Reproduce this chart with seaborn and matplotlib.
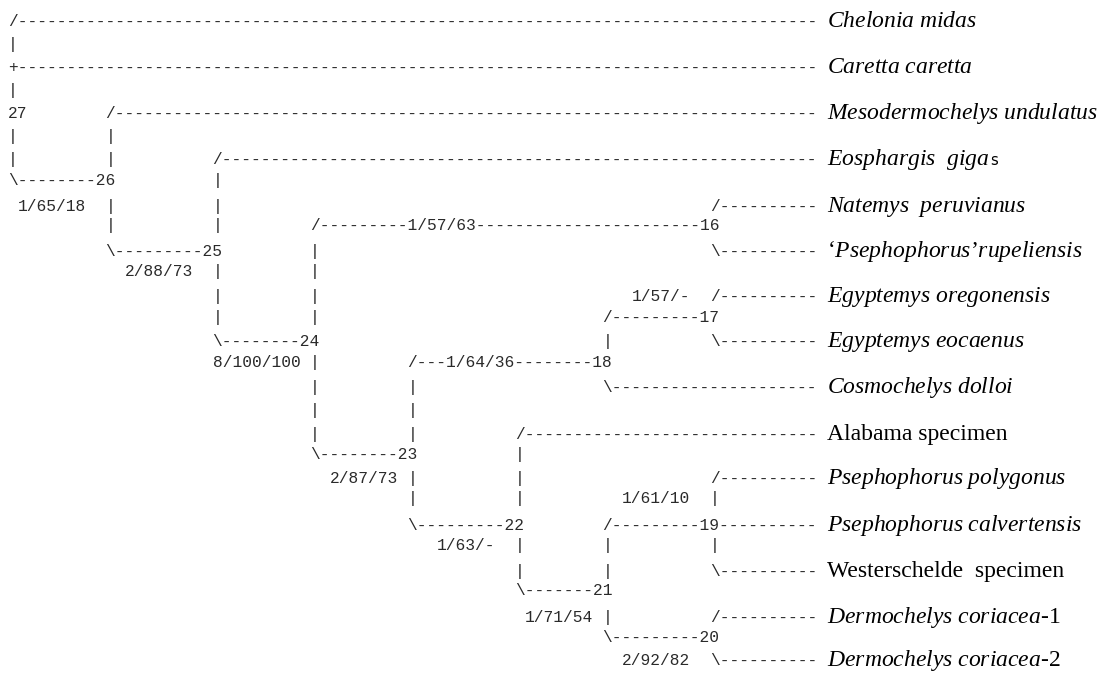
import re
import matplotlib
matplotlib.use("Agg")
import matplotlib.pyplot as plt
import seaborn as sns

# PAUP-style ASCII tree, one string per printed line (node numbers + support values)
tree_lines = [
    "/" + "-" * 82,
    "|",
    "+" + "-" * 82,
    "|",
    "27" + " " * 8 + "/" + "-" * 72,
    "|" + " " * 9 + "|",
    "|" + " " * 9 + "|" + " " * 10 + "/" + "-" * 61,
    "\\--------26" + " " * 10 + "|",
    " 1/65/18  |" + " " * 10 + "|" + " " * 50 + "/" + "-" * 10,
    " " * 10 + "|" + " " * 10 + "|" + " " * 9 + "/---------1/57/63" + "-" * 23 + "16",
    " " * 10 + "\\---------25" + " " * 9 + "|" + " " * 40 + "\\" + "-" * 10,
    " " * 12 + "2/88/73  |" + " " * 9 + "|",
    " " * 21 + "|" + " " * 9 + "|" + " " * 32 + "1/57/-  /" + "-" * 10,
    " " * 21 + "|" + " " * 9 + "|" + " " * 29 + "/---------17",
    " " * 21 + "\\--------24" + " " * 29 + "|" + " " * 10 + "\\" + "-" * 10,
    " " * 21 + "8/100/100 |" + " " * 9 + "/---1/64/36--------18",
    " " * 31 + "|" + " " * 9 + "|" + " " * 19 + "\\" + "-" * 21,
    " " * 31 + "|" + " " * 9 + "|",
    " " * 31 + "|" + " " * 9 + "|" + " " * 10 + "/" + "-" * 30,
    " " * 31 + "\\--------23" + " " * 10 + "|",
    " " * 33 + "2/87/73 |" + " " * 10 + "|" + " " * 19 + "/" + "-" * 10,
    " " * 41 + "|" + " " * 10 + "|" + " " * 10 + "1/61/10  |",
    " " * 41 + "\\---------22" + " " * 8 + "/---------19" + "-" * 10,
    " " * 44 + "1/63/-  |" + " " * 8 + "|" + " " * 10 + "|",
    " " * 52 + "|" + " " * 8 + "|" + " " * 10 + "\\" + "-" * 10,
    " " * 52 + "\\-------21",
    " " * 53 + "1/71/54 |" + " " * 10 + "/" + "-" * 10,
    " " * 61 + "\\---------20",
    " " * 63 + "2/92/82  \\" + "-" * 10,
]

# terminal taxa, top to bottom (one on every second printed line)
taxa = [
    r"$\mathit{Chelonia\ midas}$",
    r"$\mathit{Caretta\ caretta}$",
    r"$\mathit{Mesodermochelys\ undulatus}$",
    r"$\mathit{Eosphargis\ \ giga}$",
    r"$\mathit{Natemys\ \ peruvianus}$",
    r"‘$\mathit{Psephophorus}$’$\mathit{rupeliensis}$",
    r"$\mathit{Egyptemys\ oregonensis}$",
    r"$\mathit{Egyptemys\ eocaenus}$",
    r"$\mathit{Cosmochelys\ dolloi}$",
    "Alabama specimen",
    r"$\mathit{Psephophorus\ polygonus}$",
    r"$\mathit{Psephophorus\ calvertensis}$",
    "Westerschelde  specimen",
    r"$\mathit{Dermochelys\ coriacea}$-1",
    r"$\mathit{Dermochelys\ coriacea}$-$\mathit{2}$",
]
# stray small letter typed after one name in the original figure
name_tails = {3: "s"}

# vertical position (pixels from top) of each printed line
line_y = [21, 44, 67, 90, 113, 136, 159, 180, 206, 225, 251, 271, 296, 317, 341,
          362, 387, 410, 434, 454, 478, 498, 525, 545, 571, 590, 617, 637, 660]

sns.set_theme(style="white")
plt.rcParams["mathtext.fontset"] = "custom"
plt.rcParams["mathtext.rm"] = "Liberation Serif"
plt.rcParams["mathtext.it"] = "Liberation Serif:italic"

W, H = 1108, 673
fig = plt.figure(figsize=(W / 100, H / 100), dpi=100)
ax = fig.add_axes([0, 0, 1, 1])
ax.set_xlim(0, W)
ax.set_ylim(H, 0)
ax.axis("off")

char_w = 9.75      # width of one character cell
x0 = 12.7          # centre of column 0
mono_size = char_w / 0.6 * 72 / 100

for line, y in zip(tree_lines, line_y):
    for m in re.finditer(r"\S+", line):
        col = m.start() + (len(m.group()) - 1) / 2
        ax.text(x0 + char_w * col, y + 5, m.group(), ha="center", va="baseline",
                family="Liberation Mono", fontsize=mono_size, color="#2a2a2a")

renderer = fig.canvas.get_renderer()
name_x = x0 + char_w * 82 + 15
for i, (name, y) in enumerate(zip(taxa, line_y[::2])):
    t = ax.text(name_x, y + 6, name, ha="left", va="baseline",
                family="Liberation Serif", fontsize=17, color="black")
    if i in name_tails:
        x_end = t.get_window_extent(renderer).x1
        ax.text(x_end + 1, y + 6, name_tails[i], ha="left", va="baseline",
                family="DejaVu Sans", fontsize=10.5, color="black")

fig.savefig("out.png", dpi=100)
